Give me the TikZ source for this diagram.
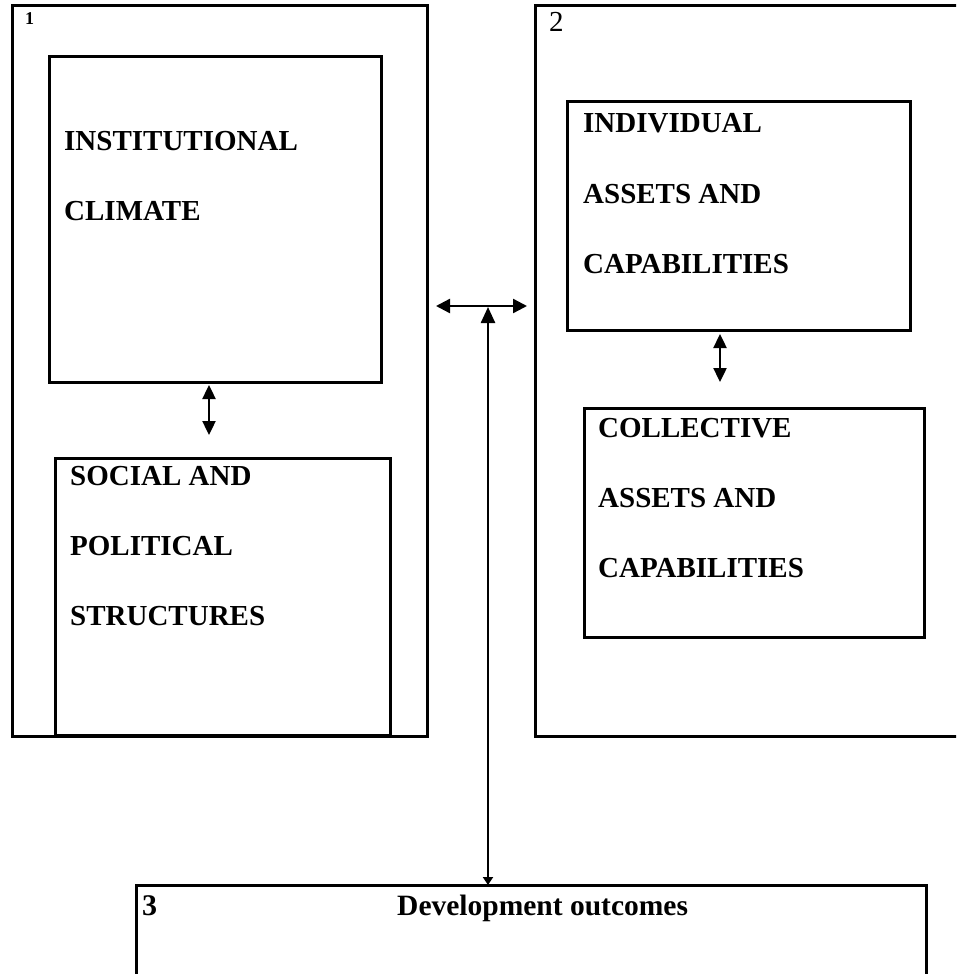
\documentclass[tikz,border=0pt]{standalone}
\usepackage{fontspec}
\setmainfont{Liberation Serif}
\usetikzlibrary{arrows.meta}
\begin{document}
\begin{tikzpicture}[x=1pt,y=-1pt,
  frame/.style={draw,line width=3pt,line join=miter},
  lbl/.style={anchor=base west,inner sep=0pt,font=\fontsize{29}{34}\selectfont\bfseries},
  dbl/.style={line width=2.4pt,{Triangle[length=14pt,width=14pt]}-{Triangle[length=14pt,width=14pt]}},
  upar/.style={line width=2.4pt,{Triangle[length=8pt,width=10pt]}-{Triangle[length=16pt,width=14pt]}}]
\useasboundingbox (0,0) rectangle (956,974);
\clip (0,0) rectangle (956,974);
% outer frames
\draw[frame] (12,6) rectangle (427,736);
\draw[frame] (535,6) rectangle (975,736);
\coordinate (f1e) at (427,306);
\coordinate (f2w) at (535,306);
% inner boxes
\draw[frame] (49,57) rectangle (381,382);
\draw[frame] (55,458) rectangle (390,735);
\draw[frame] (567,101) rectangle (910,330);
\draw[frame] (584,408) rectangle (924,637);
\draw[frame] (136,885) rectangle (926,1000);
% connector points
\coordinate (instS) at (209,382);
\coordinate (socN) at (209,458);
\coordinate (indS) at (720,330);
\coordinate (colN) at (720,408);
\coordinate (mid) at (488,306);
\coordinate (outN) at (488,885);
% texts
\node[anchor=base west,inner sep=0pt,font=\fontsize{18}{20}\selectfont\bfseries] (n1) at (25,25) {1};
\node[anchor=base west,inner sep=0pt,font=\fontsize{29}{34}\selectfont] (n2) at (549,32) {2};
\node[anchor=base west,inner sep=0pt,font=\fontsize{30}{36}\selectfont\bfseries] (n3) at (142,915) {3};
\node[anchor=base west,inner sep=0pt,font=\fontsize{29.5}{36}\selectfont\bfseries] (dev) at (397,915) {Development outcomes};
\node[lbl] (t1) at (64,150) {INSTITUTIONAL};
\node[lbl] (t2) at (64,220) {CLIMATE};
\node[lbl] (t3) at (70,485) {SOCIAL AND};
\node[lbl] (t4) at (70,555) {POLITICAL};
\node[lbl] (t5) at (70,625) {STRUCTURES};
\node[lbl] (t6) at (583,132) {INDIVIDUAL};
\node[lbl] (t7) at (583,203) {ASSETS AND};
\node[lbl] (t8) at (583,273) {CAPABILITIES};
\node[lbl] (t9) at (598,437) {COLLECTIVE};
\node[lbl] (t10) at (598,507) {ASSETS AND};
\node[lbl] (t11) at (598,577) {CAPABILITIES};
% connectors
\draw[dbl,shorten <=9pt,shorten >=8pt] (f1e) -- (f2w);
\draw[upar,shorten >=1pt] (outN) -- (mid);
\draw[line width=2.4pt,{Triangle[length=14pt,width=13pt]}-{Triangle[length=14pt,width=13pt]},shorten <=3pt,shorten >=23pt] (instS) -- (socN);
\draw[line width=2.4pt,{Triangle[length=14pt,width=13pt]}-{Triangle[length=14pt,width=13pt]},shorten <=4pt,shorten >=26pt] (indS) -- (colN);
\end{tikzpicture}
\end{document}
